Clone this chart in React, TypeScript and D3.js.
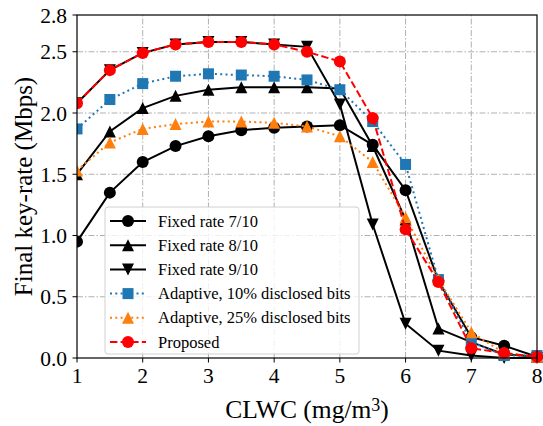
import React from 'react';
import * as d3 from 'd3';

const W = 543;
const H = 426;
const M = { top: 15, right: 6, bottom: 68, left: 77 };

const clwc = [1, 1.5, 2, 2.5, 3, 3.5, 4, 4.5, 5, 5.5, 6, 6.5, 7, 7.5, 8];

const fixed7 = [0.95, 1.35, 1.6, 1.73, 1.81, 1.86, 1.88, 1.89, 1.9, 1.74, 1.37, 0.63, 0.17, 0.1, 0.01];
const fixed8 = [1.5, 1.85, 2.04, 2.14, 2.19, 2.21, 2.21, 2.21, 2.2, 1.73, 1.13, 0.24, 0.13, 0.03, 0.01];
const fixed9 = [2.08, 2.35, 2.49, 2.56, 2.58, 2.58, 2.56, 2.54, 2.07, 1.09, 0.28, 0.06, 0.02, 0.0, 0.0];
const adapt10 = [1.87, 2.11, 2.24, 2.3, 2.32, 2.31, 2.3, 2.27, 2.19, 1.93, 1.58, 0.64, 0.13, 0.02, 0.02];
const adapt25 = [1.53, 1.76, 1.87, 1.91, 1.93, 1.93, 1.92, 1.89, 1.81, 1.6, 1.15, 0.64, 0.21, 0.04, 0.01];
const proposed = [2.08, 2.35, 2.49, 2.56, 2.58, 2.58, 2.56, 2.5, 2.42, 1.96, 1.05, 0.62, 0.08, 0.04, 0.01];

const xTicks = [1, 2, 3, 4, 5, 6, 7, 8];
const yTicks = [0, 0.5, 1.0, 1.5, 2.0, 2.5, 2.8];
const yGrid = [0.5, 1.0, 1.5, 2.0, 2.5];

type Marker = 'circle' | 'up' | 'down' | 'square';

const SERIES: { name: string; values: number[]; color: string; dash: string; marker: Marker }[] = [
  { name: 'Fixed rate 7/10', values: fixed7, color: '#000000', dash: '', marker: 'circle' },
  { name: 'Fixed rate 8/10', values: fixed8, color: '#000000', dash: '', marker: 'up' },
  { name: 'Fixed rate 9/10', values: fixed9, color: '#000000', dash: '', marker: 'down' },
  { name: 'Adaptive, 10% disclosed bits', values: adapt10, color: '#1f77b4', dash: '2,3.3', marker: 'square' },
  { name: 'Adaptive, 25% disclosed bits', values: adapt25, color: '#ff7f0e', dash: '2,3.3', marker: 'up' },
  { name: 'Proposed', values: proposed, color: '#ff0000', dash: '7.4,3.2', marker: 'circle' },
];

function MarkerShape({ kind, x, y, color }: { kind: Marker; x: number; y: number; color: string }) {
  const s = 6;
  if (kind === 'circle') return <circle cx={x} cy={y} r={6} fill={color} />;
  if (kind === 'square') return <rect x={x - 5.5} y={y - 5.5} width={11} height={11} fill={color} />;
  const d =
    kind === 'up'
      ? `M${x},${y - s}L${x - s},${y + s}L${x + s},${y + s}Z`
      : `M${x},${y + s}L${x - s},${y - s}L${x + s},${y - s}Z`;
  return <path d={d} fill={color} />;
}

export default function App() {
  const x = d3.scaleLinear().domain([1, 8]).range([M.left, W - M.right]);
  const y = d3.scaleLinear().domain([0, 2.8]).range([H - M.bottom, M.top]);
  const line = d3
    .line<number>()
    .x((_, i) => x(clwc[i]))
    .y((d) => y(d));

  const font = '"Liberation Serif", "Times New Roman", serif';
  const legX = 105;
  const legY = 207;

  return (
    <svg
      width={W}
      height={H}
      style={{ position: 'absolute', left: 0, top: 0, background: '#fff' }}
      fontFamily={font}
    >
      <defs>
        <clipPath id="plot">
          <rect x={M.left} y={M.top - 8} width={W - M.left - M.right + 8} height={H - M.top - M.bottom + 16} />
        </clipPath>
      </defs>
      {/* grid */}
      {xTicks.slice(1, -1).map((t) => (
        <line key={`gx${t}`} x1={x(t)} x2={x(t)} y1={y(0)} y2={y(2.8)} stroke="#b0b0b0" strokeWidth={1} strokeDasharray="6,2,1.5,2" />
      ))}
      {yGrid.map((t) => (
        <line key={`gy${t}`} x1={x(1)} x2={x(8)} y1={y(t)} y2={y(t)} stroke="#b0b0b0" strokeWidth={1} strokeDasharray="6,2,1.5,2" />
      ))}

      <g clipPath="url(#plot)">
        {SERIES.map((s) => (
          <g key={s.name}>
            <path d={line(s.values) ?? ''} fill="none" stroke={s.color} strokeWidth={2} strokeDasharray={s.dash || undefined} />
            {s.values.map((v, i) => (
              <MarkerShape key={i} kind={s.marker} x={x(clwc[i])} y={y(v)} color={s.color} />
            ))}
          </g>
        ))}
      </g>

      {/* frame */}
      <rect x={x(1)} y={y(2.8)} width={x(8) - x(1)} height={y(0) - y(2.8)} fill="none" stroke="#000" strokeWidth={1.2} />

      {/* axis ticks */}
      {xTicks.map((t) => (
        <g key={`xt${t}`}>
          <line x1={x(t)} x2={x(t)} y1={y(0)} y2={y(0) + 4.5} stroke="#000" strokeWidth={1} />
          <text x={x(t)} y={y(0) + 25} textAnchor="middle" fontSize={21.5}>
            {t}
          </text>
        </g>
      ))}
      {yTicks.map((t) => (
        <g key={`yt${t}`}>
          <line x1={x(1) - 4.5} x2={x(1)} y1={y(t)} y2={y(t)} stroke="#000" strokeWidth={1} />
          <text x={x(1) - 10} y={y(t) + 7.5} textAnchor="end" fontSize={21.5}>
            {t.toFixed(1)}
          </text>
        </g>
      ))}

      <text x={(x(1) + x(8)) / 2} y={418} textAnchor="middle" fontSize={25.5}>
        CLWC (mg/m
        <tspan dy={-7} fontSize={18}>3</tspan>
        <tspan dy={7}>)</tspan>
      </text>
      <text transform={`translate(32, ${(y(0) + y(2.8)) / 2}) rotate(-90)`} textAnchor="middle" fontSize={25}>
        Final key-rate (Mbps)
      </text>

      {/* legend */}
      <rect x={legX} y={legY} width={254} height={147} rx={3} fill="#fff" fillOpacity={0.8} stroke="#d0d0d0" strokeWidth={1} />
      {SERIES.map((s, i) => {
        const cy = legY + 14 + i * 24.2;
        return (
          <g key={`leg${s.name}`}>
            <line x1={legX + 5} x2={legX + 41} y1={cy} y2={cy} stroke={s.color} strokeWidth={2} strokeDasharray={s.dash || undefined} />
            <MarkerShape kind={s.marker} x={legX + 23} y={cy} color={s.color} />
            <text x={legX + 53} y={cy + 5.5} fontSize={16.5}>
              {s.name}
            </text>
          </g>
        );
      })}
    </svg>
  );
}
